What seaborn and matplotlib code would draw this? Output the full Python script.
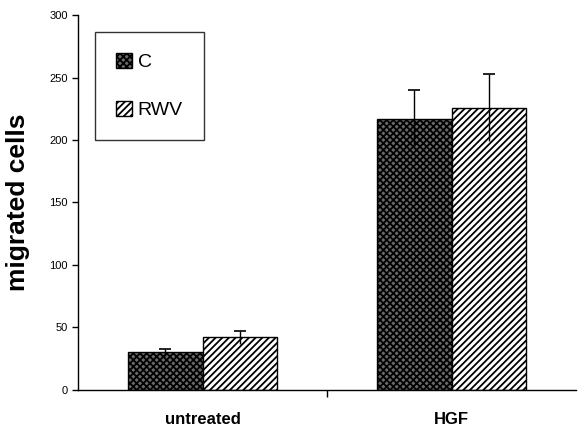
import pandas as pd
import matplotlib
matplotlib.use("Agg")
import matplotlib.pyplot as plt
import seaborn as sns

# data
groups = ["untreated", "HGF"]
conditions = ["C", "RWV"]
c_vals = [30, 217]
rwv_vals = [42, 226]
c_err = [3, 23]
rwv_err = [5, 27]

df = pd.DataFrame({
    "group": groups * 2,
    "cond": ["C"] * 2 + ["RWV"] * 2,
    "cells": c_vals + rwv_vals,
    "err": c_err + rwv_err,
})

sns.set_style("ticks")
plt.rcParams['font.family'] = ['Liberation Sans', 'DejaVu Sans']
plt.rcParams['hatch.linewidth'] = 1.3
plt.rcParams['text.color'] = 'black'
plt.rcParams['axes.labelcolor'] = 'black'
plt.rcParams['xtick.color'] = 'black'
plt.rcParams['ytick.color'] = 'black'
plt.rcParams['axes.edgecolor'] = 'black'

fig = plt.figure(figsize=(5.78, 4.29), dpi=100)
ax = fig.add_axes([0.135, 0.091, 0.862, 0.874])

sns.barplot(data=df, x="group", y="cells", hue="cond", order=groups,
            hue_order=conditions, width=0.6, palette=["#6a6a6a", "white"],
            edgecolor="black", linewidth=1.0, errorbar=None, ax=ax)

hatches = {"C": "xxxxx", "RWV": "/////"}
bars = ax.patches[:4]
for i, cond in enumerate(conditions):
    for j, g in enumerate(groups):
        p = bars[i * 2 + j]
        p.set_hatch(hatches[cond])
        row = df[(df.group == g) & (df.cond == cond)].iloc[0]
        xc = p.get_x() + p.get_width() / 2
        ax.errorbar(xc, row.cells, yerr=row.err, fmt="none", ecolor="black",
                    elinewidth=1.0, capsize=0, zorder=5)
        ax.plot(xc, row.cells + row.err, marker="_", ms=8, mew=1.2,
                color="black", zorder=5)

ax.set_ylim(0, 300)
ax.set_yticks(range(0, 301, 50))
ax.set_xlim(-0.5, 1.5)
ax.tick_params(axis="y", labelsize=8, length=4, width=1, direction="out")
ax.tick_params(axis="x", which="major", length=0, labelsize=12, pad=16)
for lbl in ax.get_xticklabels():
    lbl.set_fontweight("bold")
ax.set_xticks([0.5], minor=True)
ax.tick_params(axis="x", which="minor", length=5, width=1, direction="out")
sns.despine(ax=ax)
for s in ["left", "bottom"]:
    ax.spines[s].set_linewidth(1.0)

ax.set_xlabel("")
ax.set_ylabel("migrated cells", fontsize=19, fontweight="bold", labelpad=14)

leg = ax.legend(loc="upper left", bbox_to_anchor=(0.034, 0.955), fontsize=14,
                frameon=True, fancybox=False, edgecolor="black",
                borderaxespad=0, borderpad=1.1, labelspacing=1.5,
                handlelength=0.8, handleheight=0.8, handletextpad=0.3)
leg.get_frame().set_linewidth(1.0)
for h, cond in zip(leg.legend_handles, conditions):
    h.set_hatch(hatches[cond])

fig.savefig("out.png", dpi=100)
